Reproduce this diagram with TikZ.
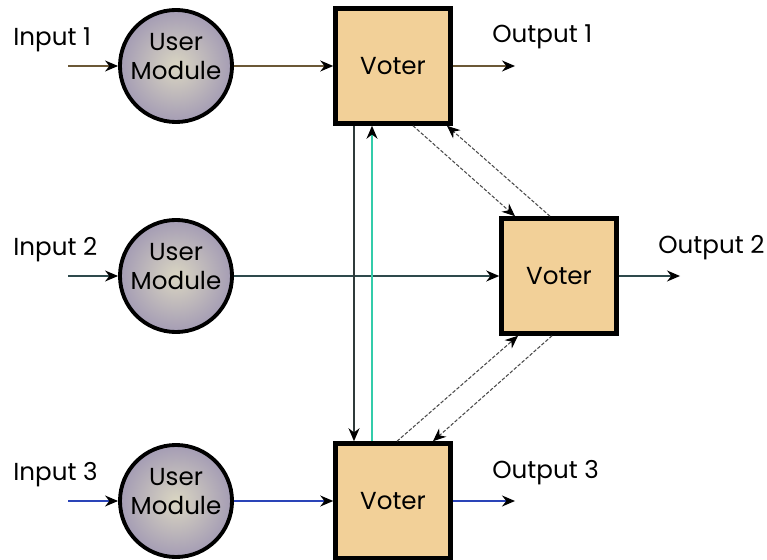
\documentclass[tikz,border=0pt]{standalone}
\usepackage{fontspec}
\setmainfont{Poppins}
\usetikzlibrary{arrows.meta,positioning,calc}

\definecolor{modcenter}{HTML}{DAD6C2}
\definecolor{modedge}{HTML}{A49CB4}
\definecolor{voterfill}{HTML}{F2D098}
\definecolor{rowone}{HTML}{6B5836}
\definecolor{rowtwo}{HTML}{2E4A4C}
\definecolor{rowthree}{HTML}{2A44B8}
\definecolor{downline}{HTML}{2F3A3A}
\definecolor{upline}{HTML}{33CCAA}
\definecolor{crossgray}{HTML}{4A4A4A}

\begin{document}
\begin{tikzpicture}[
    x=0.02cm, y=-0.02cm,
    every node/.style={font=\fontsize{14}{16.5}\selectfont},
    usermodule/.style={circle, draw, line width=2.2pt, minimum size=2.22cm, inner sep=0pt,
      align=center, text depth=0.4cm, inner color=modcenter, outer color=modedge},
    voter/.style={rectangle, draw, line width=2.6pt, minimum size=2.3cm, fill=voterfill},
    lbl/.style={anchor=west, inner sep=0pt},
    link/.style={->, line width=0.7pt},
    cross/.style={->, line width=0.6pt, dash pattern=on 2pt off 1pt, draw=crossgray},
    >={Stealth[length=2.6mm,width=2.2mm,color=black]}
  ]
    \useasboundingbox (0,0) rectangle (767,560);

    \node[usermodule] (mod1) at (176,66) {User\\Module};
    \node[usermodule] (mod2) at (176,276) {User\\Module};
    \node[usermodule] (mod3) at (176,501) {User\\Module};

    \node[voter] (vot1) at (393,66) {Voter};
    \node[voter] (vot2) at (559,276) {Voter};
    \node[voter] (vot3) at (393,501) {Voter};

    \coordinate (in1) at (68,66);
    \coordinate (in2) at (68,276);
    \coordinate (in3) at (68,501);
    \coordinate (out1) at (515,66);
    \coordinate (out2) at (680,276);
    \coordinate (out3) at (515,501);

    \node[lbl] (inlbl1) at (13,40) {Input 1};
    \node[lbl] (inlbl2) at (13,250) {Input 2};
    \node[lbl] (inlbl3) at (13,475) {Input 3};
    \node[lbl] (outlbl1) at (492,37) {Output 1};
    \node[lbl] (outlbl2) at (658,248) {Output 2};
    \node[lbl] (outlbl3) at (492,473) {Output 3};

    % rows
    \draw[link, draw=rowone] (in1) -- (mod1);
    \draw[link, draw=rowone] (mod1) -- (vot1);
    \draw[link, draw=rowone] (vot1) -- (out1);
    \draw[link, draw=rowtwo] (in2) -- (mod2);
    \draw[link, draw=rowtwo] (mod2) -- (vot2);
    \draw[link, draw=rowtwo] (vot2) -- (out2);
    \draw[link, draw=rowthree] (in3) -- (mod3);
    \draw[link, draw=rowthree] (mod3) -- (vot3);
    \draw[link, draw=rowthree] (vot3) -- (out3);

    % voter to voter
    \draw[link, draw=downline] ([xshift=-0.78cm]vot1.south) -- ([xshift=-0.78cm]vot3.north);
    \draw[link, draw=upline] ([xshift=-0.42cm]vot3.north) -- ([xshift=-0.42cm]vot1.south);
    \draw[cross] ([xshift=0.4cm]vot1.south) -- ([xshift=-0.88cm]vot2.north);
    \draw[cross] ([xshift=-0.18cm]vot2.north) -- ([xshift=1.08cm]vot1.south);
    \draw[cross] ([xshift=0.08cm]vot3.north) -- ([xshift=-0.82cm]vot2.south);
    \draw[cross] ([xshift=-0.14cm]vot2.south) -- ([xshift=0.8cm]vot3.north);
  \end{tikzpicture}
\end{document}
